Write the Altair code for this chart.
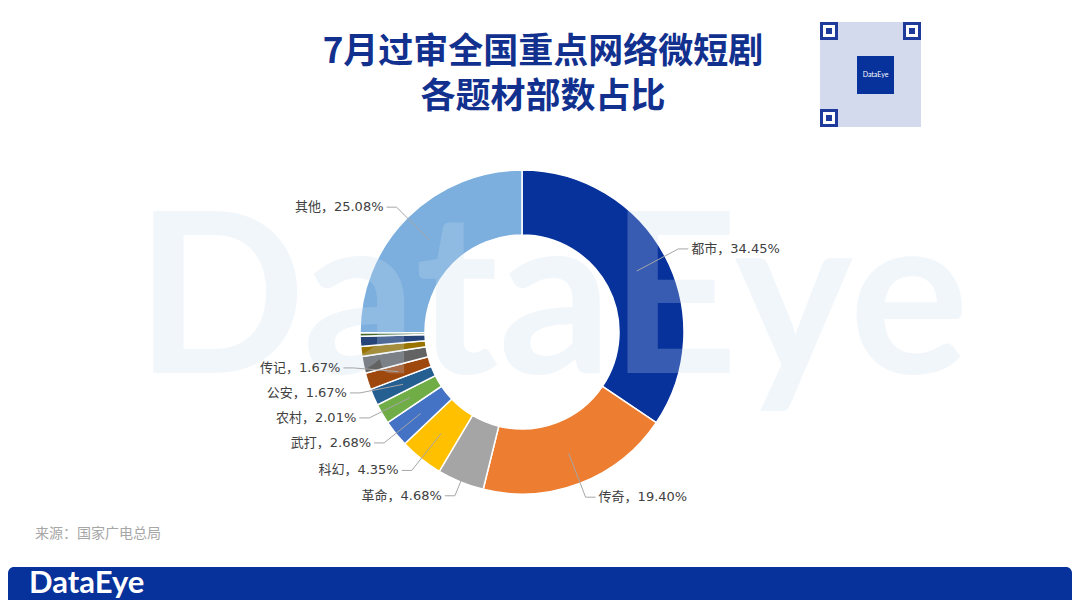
import altair as alt
import pandas as pd

# ---- data ----
names = ["都市", "传奇", "革命", "科幻", "武打", "农村", "公安", "传记",
         "未标注1", "未标注2", "未标注3", "未标注4", "其他"]
values = [34.45, 19.40, 4.68, 4.35, 2.68, 2.01, 1.67, 1.67,
          1.67, 1.00, 1.00, 0.34, 25.08]
show_label = [True] * 8 + [False] * 4 + [True]
colors = ["#07319b", "#ed7d31", "#a5a5a5", "#ffc000", "#4472c4", "#70ad47",
          "#255e91", "#9e480e", "#636363", "#997300", "#264478", "#43682b",
          "#7cafdd"]
title_lines = ["7月过审全国重点网络微短剧", "各题材部数占比"]
source_text = "来源：国家广电总局"
brand = "DataEye"

df = pd.DataFrame({
    "name": names,
    "value": values,
    "idx": list(range(len(names))),
    "show": show_label,
    "label": [f"{n}，{v:.2f}%" for n, v in zip(names, values)],
})

W, H = 1064, 592
CX, CY = 514, 324
R_OUT, R_IN = 162, 97
R1, R2 = 130, 177
GAP = 25
FONT = "Noto Sans CJK SC"
LFONT = "DejaVu Sans, Noto Sans CJK SC"

base = alt.Chart(df)

arcs = base.mark_arc(radius=R_OUT, innerRadius=R_IN, stroke="white",
                     strokeWidth=1.5).encode(
    theta=alt.Theta("value:Q", stack=True),
    order=alt.Order("idx:Q"),
    color=alt.Color("name:N", scale=alt.Scale(domain=names, range=colors), legend=None),
    x=alt.value(CX), y=alt.value(CY),
)

geo = (
    base.transform_window(cum="sum(value)", sort=[alt.SortField("idx", order="ascending")])
    .transform_joinaggregate(total="sum(value)")
    .transform_calculate(mid="(datum.cum - datum.value/2)/datum.total*2*PI")
    .transform_filter("datum.show")
    .transform_calculate(side="sin(datum.mid) >= 0 ? 1 : -1")
    .transform_calculate(px1=f"{CX} + {R1}*sin(datum.mid)")
    .transform_calculate(py1=f"{CY} - {R1}*cos(datum.mid)")
    .transform_calculate(px2=f"{CX} + {R2}*sin(datum.mid)")
    .transform_calculate(ny=f"{CY} - {R2}*cos(datum.mid)")
    # push labels upward (per side) so that they keep at least GAP px apart
    .transform_window(rk="row_number()", groupby=["side"],
                      sort=[alt.SortField("ny", order="ascending")])
    .transform_calculate(a=f"datum.ny - datum.rk*{GAP}")
    .transform_window(amin="min(a)", groupby=["side"], frame=[0, None],
                      sort=[alt.SortField("ny", order="ascending")])
    .transform_calculate(py2=f"datum.amin + datum.rk*{GAP}")
    .transform_calculate(px3="datum.px2 + datum.side*10")
    .transform_calculate(tx="datum.px3 + datum.side*3")
)

XN = lambda f: alt.X(f, scale=None, axis=None)
YN = lambda f: alt.Y(f, scale=None, axis=None)

lead1 = geo.mark_rule(color="#a6a6a6", strokeWidth=1).encode(
    x=XN("px1:Q"), y=YN("py1:Q"), x2="px2:Q", y2="py2:Q")
lead2 = geo.mark_rule(color="#a6a6a6", strokeWidth=1).encode(
    x=XN("px2:Q"), x2="px3:Q", y=YN("py2:Q"))

lab_r = geo.transform_filter("datum.side > 0").mark_text(
    align="left", baseline="middle", font=LFONT, fontSize=13, color="#404040").encode(
    x=XN("tx:Q"), y=YN("py2:Q"), text="label:N")
lab_l = geo.transform_filter("datum.side < 0").mark_text(
    align="right", baseline="middle", font=LFONT, fontSize=13, color="#404040").encode(
    x=XN("tx:Q"), y=YN("py2:Q"), text="label:N")

one = pd.DataFrame({"t": [brand]})

watermark = alt.Chart(one).mark_text(
    align="center", baseline="alphabetic", font="Lato", fontWeight="bold",
    fontSize=224, color="#c8dcf2", opacity=0.25).encode(
    x=alt.value(544), y=alt.value(365), text="t:N")

tdf = pd.DataFrame({"t": title_lines})
title1 = alt.Chart(tdf).transform_filter(f"datum.t == '{title_lines[0]}'").mark_text(
    align="center", baseline="middle", font=FONT, fontWeight="bold", fontSize=35,
    color="#12318f").encode(x=alt.value(535), y=alt.value(44), text="t:N")
title2 = alt.Chart(tdf).transform_filter(f"datum.t == '{title_lines[1]}'").mark_text(
    align="center", baseline="middle", font=FONT, fontWeight="bold", fontSize=35,
    color="#12318f").encode(x=alt.value(535), y=alt.value(89), text="t:N")

src = alt.Chart(pd.DataFrame({"t": [source_text]})).mark_text(
    align="left", baseline="middle", font=FONT, fontSize=14, color="#a6a6a6").encode(
    x=alt.value(27), y=alt.value(526), text="t:N")

banner = alt.Chart(one).mark_rect(color="#07319b", cornerRadius=6).encode(
    x=alt.value(0), x2=alt.value(W), y=alt.value(559), y2=alt.value(H + 10))
banner_txt = alt.Chart(one).mark_text(
    align="left", baseline="middle", font="Lato", fontWeight="bold", fontSize=31,
    color="white").encode(x=alt.value(21), y=alt.value(576), text="t:N")

# QR-code-like badge (decoration)
qr_bg = alt.Chart(one).mark_rect(color="#d3daee").encode(
    x=alt.value(812), x2=alt.value(913), y=alt.value(14), y2=alt.value(119))
finders = []
for (fx, fy) in [(812, 14), (895, 14), (812, 101)]:
    finders.append(alt.Chart(one).mark_rect(fill="white", stroke="#1e3a9a", strokeWidth=3).encode(
        x=alt.value(fx + 1.5), x2=alt.value(fx + 16.5), y=alt.value(fy + 1.5), y2=alt.value(fy + 16.5)))
    finders.append(alt.Chart(one).mark_rect(color="#1e3a9a").encode(
        x=alt.value(fx + 6), x2=alt.value(fx + 12), y=alt.value(fy + 6), y2=alt.value(fy + 12)))
qr_logo = alt.Chart(one).mark_rect(color="#07319b").encode(
    x=alt.value(849), x2=alt.value(886), y=alt.value(48), y2=alt.value(86))
qr_logo_txt = alt.Chart(one).mark_text(
    align="center", baseline="middle", font="Lato", fontSize=7, color="white").encode(
    x=alt.value(867.5), y=alt.value(67), text="t:N")

chart = alt.layer(
    arcs, watermark, lead1, lead2, lab_r, lab_l, title1, title2, src,
    banner, banner_txt, qr_bg, *finders, qr_logo, qr_logo_txt
).properties(
    width=W, height=H, padding=0,
    autosize=alt.AutoSizeParams(type="fit", contains="padding"),
    background="white",
).configure_view(stroke=None)

chart.save("out.html", embed_options={"renderer": "svg", "actions": False})
